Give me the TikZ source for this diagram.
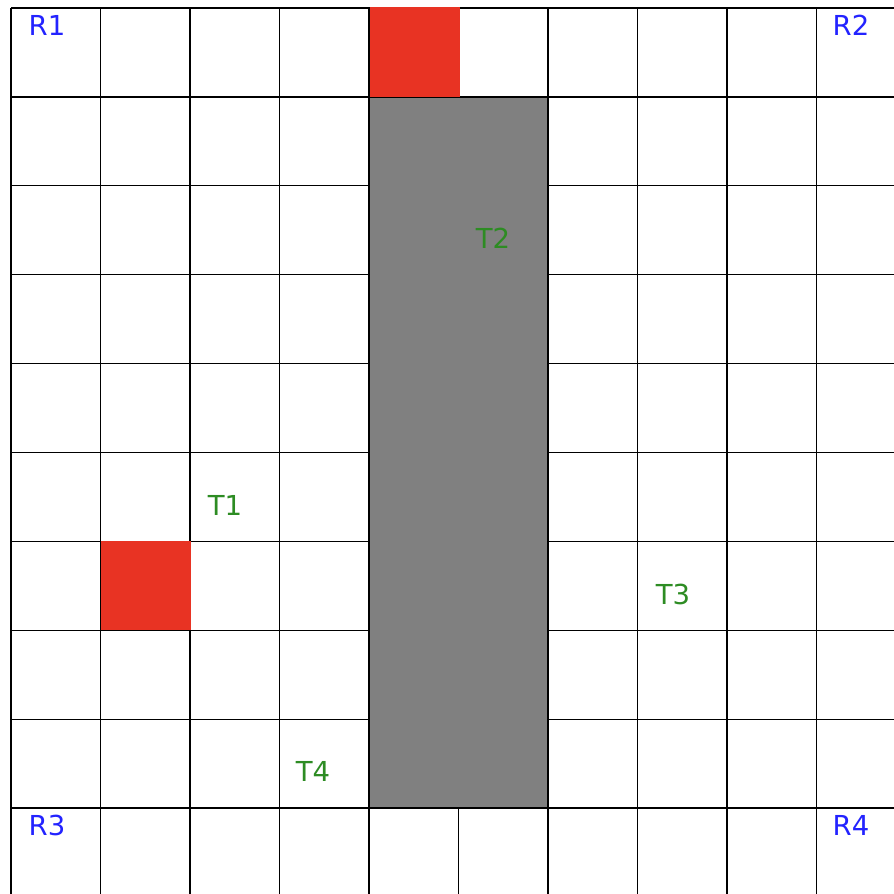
\documentclass[tikz,border=0pt]{standalone}
\usepackage{fontspec}
\setmainfont{DejaVu Sans}
\definecolor{cellred}{RGB}{232,51,35}
\definecolor{cellgray}{RGB}{128,128,128}
\definecolor{lblblue}{RGB}{35,35,255}
\definecolor{lblgreen}{RGB}{45,140,35}
\begin{document}
\begin{tikzpicture}[x=1pt,y=-1pt,
  gridline/.style={black,line width=1.3pt},
  lbl/.style={font=\fontsize{27.5}{30}\selectfont, anchor=base, inner sep=0pt},
  rlbl/.style={lbl, text=lblblue},
  tlbl/.style={lbl, text=lblgreen}]
\useasboundingbox (0,0) rectangle (894,894);
\clip (0,0) rectangle (894,894);
\fill[white] (0,0) rectangle (894,894);
\foreach \i in {0,...,10} \draw[gridline] ({11+89.5*\i},8) -- ({11+89.5*\i},900);
\foreach \j in {0,...,10} \draw[gridline] (11,{8+88.9*\j}) -- (900,{8+88.9*\j});
\filldraw[fill=cellgray, draw=black, line width=1.3pt] (369,96.9) rectangle (548,808.1);
\fill[cellred] (369.7,7.4) rectangle (459.5,96.9);
\fill[cellred] (100.5,541.4) rectangle (190.5,630.3);
\node[rlbl] (r1) at (47,35.5) {R1};
\node[rlbl] (r2) at (851,35.5) {R2};
\node[rlbl] (r3) at (47,835.5) {R3};
\node[rlbl] (r4) at (851,835.5) {R4};
\node[tlbl] (t1) at (225,515.5) {T1};
\node[tlbl] (t2) at (493,248.5) {T2};
\node[tlbl] (t3) at (673,604.5) {T3};
\node[tlbl] (t4) at (313,781.5) {T4};
\end{tikzpicture}
\end{document}
